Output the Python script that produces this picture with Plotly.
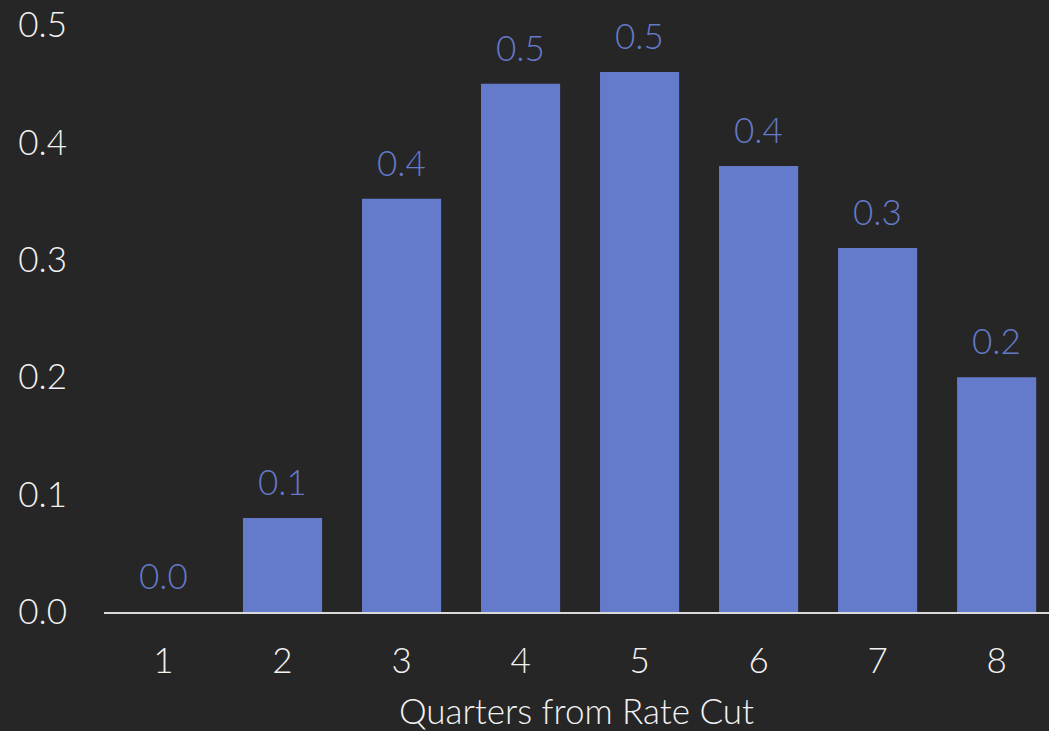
import plotly.graph_objects as go

# Quarters after the rate cut and the estimated response
quarters = [1, 2, 3, 4, 5, 6, 7, 8]
response = [0.0, 0.08, 0.352, 0.45, 0.46, 0.38, 0.31, 0.2]
y_ticks = [0.0, 0.1, 0.2, 0.3, 0.4, 0.5]

BAR = "#647ACA"
BG = "#262626"
FONT = "Lato, 'Open Sans', sans-serif"
SIZE = 35

fig = go.Figure(
    go.Bar(
        x=quarters,
        y=response,
        marker=dict(color=BAR, line=dict(width=0)),
        width=0.665,
        hoverinfo="skip",
    )
)

# value labels sitting a little above each bar
for q, v in zip(quarters, response):
    fig.add_annotation(
        x=q, y=v, text=f"{v:.1f}", showarrow=False,
        yanchor="bottom", yshift=14,
        font=dict(color=BAR, size=SIZE, family=FONT, weight=300),
    )

fig.update_layout(
    width=1049,
    height=731,
    paper_bgcolor=BG,
    plot_bgcolor=BG,
    margin=dict(l=104, r=0, t=25, b=119),
    font=dict(family=FONT, color="#F2F2F2", size=SIZE, weight=300),
    showlegend=False,
    xaxis=dict(
        tickmode="array",
        tickvals=quarters,
        ticktext=[str(q) for q in quarters],
        range=[0.5, 8.44],
        showgrid=False,
        zeroline=False,
        showline=True,
        linecolor="#D9D9D9",
        linewidth=2,
        ticks="",
        ticklabelstandoff=17,
        tickfont=dict(size=SIZE, weight=300),
        title=dict(text="Quarters from Rate Cut", standoff=26,
                   font=dict(size=SIZE, weight=300)),
    ),
    yaxis=dict(
        tickmode="array",
        tickvals=y_ticks,
        ticktext=[f"{v:.1f}" for v in y_ticks],
        range=[0, 0.5],
        showgrid=False,
        zeroline=False,
        showline=False,
        ticks="",
        ticklabelstandoff=36,
        tickfont=dict(size=SIZE, weight=300),
    ),
)

fig.write_html("out.html")
